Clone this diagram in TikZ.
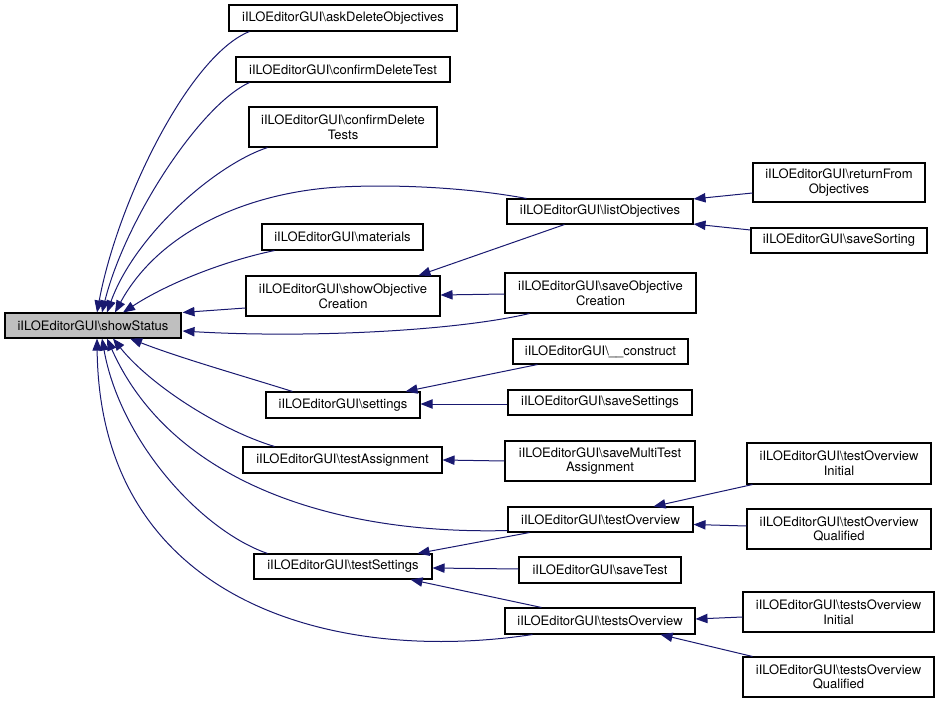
\documentclass[tikz,border=0pt]{standalone}
\usepackage{fontspec}
\setmainfont{TeX Gyre Heros}
\usetikzlibrary{arrows.meta,calc}
\definecolor{edgecol}{RGB}{25,25,112}
\definecolor{ssfill}{RGB}{191,191,191}
\tikzset{
  box/.style={draw=black, line width=0.8pt, fill=white, inner sep=0pt, align=center,
    font=\fontsize{9.75}{10.9}\selectfont},
  edge/.style={draw=edgecol, line width=0.75pt, -{Triangle[length=9pt,width=7pt]}},
}
\newcommand{\bs}{\textbackslash{}}
\begin{document}
\begin{tikzpicture}[x=0.75pt,y=-0.75pt]
\useasboundingbox (0,0) rectangle (940,703);
% nodes
\node[box, fill=ssfill, minimum width=176*0.75pt, minimum height=25*0.75pt] (ss) at (93,325.5) {iILOEditorGUI\bs showStatus};
\node[box, minimum width=228*0.75pt, minimum height=26*0.75pt] (ado) at (343,18) {iILOEditorGUI\bs askDeleteObjectives};
\node[box, minimum width=214*0.75pt, minimum height=25*0.75pt] (cdt) at (343,69.5) {iILOEditorGUI\bs confirmDeleteTest};
\node[box, minimum width=188*0.75pt, minimum height=40*0.75pt] (cdts) at (343,127) {iILOEditorGUI\bs confirmDelete\\Tests};
\node[box, minimum width=161*0.75pt, minimum height=26*0.75pt] (mat) at (342.5,237) {iILOEditorGUI\bs materials};
\node[box, minimum width=194*0.75pt, minimum height=40*0.75pt] (soc) at (343,296) {iILOEditorGUI\bs showObjective\\Creation};
\node[box, minimum width=154*0.75pt, minimum height=26*0.75pt] (set) at (343,405) {iILOEditorGUI\bs settings};
\node[box, minimum width=199*0.75pt, minimum height=26*0.75pt] (ta) at (342.5,460) {iILOEditorGUI\bs testAssignment};
\node[box, minimum width=178*0.75pt, minimum height=25*0.75pt] (ts) at (343,566.5) {iILOEditorGUI\bs testSettings};
\node[box, minimum width=186*0.75pt, minimum height=25*0.75pt] (lo) at (600,211.5) {iILOEditorGUI\bs listObjectives};
\node[box, minimum width=191*0.75pt, minimum height=40*0.75pt] (sobc) at (600.5,293) {iILOEditorGUI\bs saveObjective\\Creation};
\node[box, minimum width=175*0.75pt, minimum height=25*0.75pt] (con) at (600.5,351.5) {iILOEditorGUI\bs \_\_construct};
\node[box, minimum width=184*0.75pt, minimum height=25*0.75pt] (sset) at (600,402.5) {iILOEditorGUI\bs saveSettings};
\node[box, minimum width=190*0.75pt, minimum height=40*0.75pt] (smta) at (600,461) {iILOEditorGUI\bs saveMultiTest\\Assignment};
\node[box, minimum width=185*0.75pt, minimum height=25*0.75pt] (to) at (600.5,519.5) {iILOEditorGUI\bs testOverview};
\node[box, minimum width=162*0.75pt, minimum height=26*0.75pt] (st) at (600,570) {iILOEditorGUI\bs saveTest};
\node[box, minimum width=190*0.75pt, minimum height=26*0.75pt] (tso) at (600,621) {iILOEditorGUI\bs testsOverview};
\node[box, minimum width=172*0.75pt, minimum height=39*0.75pt] (rfo) at (839,182.5) {iILOEditorGUI\bs returnFrom\\Objectives};
\node[box, minimum width=176*0.75pt, minimum height=25*0.75pt] (ssort) at (839,240.5) {iILOEditorGUI\bs saveSorting};
\node[box, minimum width=184*0.75pt, minimum height=41*0.75pt] (toi) at (839,463.5) {iILOEditorGUI\bs testOverview\\Initial};
\node[box, minimum width=184*0.75pt, minimum height=40*0.75pt] (toq) at (839,529) {iILOEditorGUI\bs testOverview\\Qualified};
\node[box, minimum width=191*0.75pt, minimum height=40*0.75pt] (tsoi) at (838.5,612) {iILOEditorGUI\bs testsOverview\\Initial};
\node[box, minimum width=191*0.75pt, minimum height=40*0.75pt] (tsoq) at (838.5,677) {iILOEditorGUI\bs testsOverview\\Qualified};

% edges into showStatus (top)
\draw[edge] ($(ado.south west)+(21,0)$) .. controls (190,55) and (118,200) .. ($(ss.north)+(4,0)$);
\draw[edge] ($(cdt.south west)+(14,0)$) .. controls (200,105) and (125,220) .. ($(ss.north)+(9,0)$);
\draw[edge] ($(cdts.south west)+(19,0)$) .. controls (215,165) and (135,235) .. ($(ss.north)+(14,0)$);
\draw[edge] ($(lo.north west)+(20,0)$) .. controls (470,188) and (400,184) .. (340,187)
  .. controls (250,192) and (160,230) .. ($(ss.north)+(22,0)$);
\draw[edge] ($(mat.south west)+(13,0)$) .. controls (220,262) and (165,285) .. ($(ss.north)+(30,0)$);
% right side
\draw[edge] ($(soc.west)+(0,12)$) -- ($(ss.north east)+(1,0)$);
\draw[edge] ($(sobc.south west)+(25,0)$) .. controls (450,332) and (300,338) .. ($(ss.east)+(1,5.5)$);
% bottom
\draw[edge] ($(set.north west)+(27,0)$) .. controls (240,375) and (180,358) .. ($(ss.south)+(37,0)$);
\draw[edge] ($(ta.north west)+(32,0)$) .. controls (220,430) and (150,385) .. ($(ss.south)+(20,0)$);
\draw[edge] ($(to.south west)+(0,-2)$) .. controls (330,535) and (170,480) .. ($(ss.south)+(14,0)$);
\draw[edge] ($(ts.north west)+(14,0)$) .. controls (200,530) and (120,440) .. ($(ss.south)+(9,0)$);
\draw[edge] ($(tso.south west)+(28,0)$) .. controls (330,665) and (100,600) .. ($(ss.south)+(4,0)$);

% other edges
\draw[edge] ($(lo.south west)+(58,0)$) -- ($(soc.north east)+(-22,0)$);
\draw[edge] ($(sobc.west)+(0,1)$) -- ($(soc.east)+(0,-1)$);
\draw[edge] ($(rfo.west)+(0,10.5)$) -- ($(lo.north east)+(0,0.5)$);
\draw[edge] ($(ssort.west)+(0,-10.5)$) -- ($(lo.south east)+(0,-0.5)$);
\draw[edge] ($(con.south west)+(25,0)$) -- ($(set.north east)+(-15,0)$);
\draw[edge] ($(sset.west)+(0,1.5)$) -- ($(set.east)+(0,-1)$);
\draw[edge] (smta.west) -- (ta.east);
\draw[edge] ($(to.south west)+(22,0)$) -- ($(ts.north east)+(-15,0)$);
\draw[edge] ($(st.west)+(0,-1)$) -- ($(ts.east)+(0,1.5)$);
\draw[edge] ($(tso.north west)+(37,0)$) -- ($(ts.south east)+(-22,0)$);
\draw[edge] ($(toi.south west)+(6,0)$) -- ($(to.north east)+(-40,0)$);
\draw[edge] ($(toq.west)+(0,-3)$) -- ($(to.east)+(0,5)$);
\draw[edge] ($(tsoi.west)+(0,5)$) -- ($(tso.east)+(0,-2)$);
\draw[edge] ($(tsoq.north west)+(10,0)$) -- ($(tso.south east)+(-35,0)$);
\end{tikzpicture}
\end{document}
